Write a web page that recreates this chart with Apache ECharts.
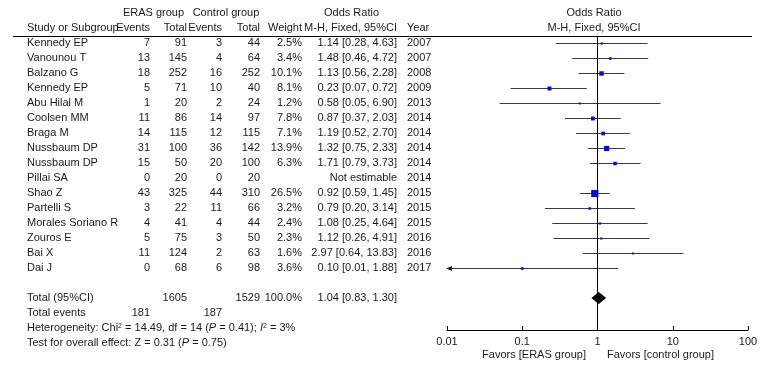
<!DOCTYPE html>
<html>
<head>
<meta charset="utf-8">
<script src="https://cdn.jsdelivr.net/npm/echarts@6/dist/echarts.min.js"></script>
<style>
  html, body { margin: 0; background: #fff; }
  #chart { width: 768px; height: 371px; }
</style>
</head>
<body>
<div id="chart"></div>
<script>
// ---- data ----
const studies = ["Kennedy EP", "Vanounou T", "Balzano G", "Kennedy EP", "Abu Hilal M", "Coolsen MM",
  "Braga M", "Nussbaum DP", "Nussbaum DP", "Pillai SA", "Shao Z", "Partelli S",
  "Morales Soriano R", "Zouros E", "Bai X", "Dai J"];
const years = [2007, 2007, 2008, 2009, 2013, 2014, 2014, 2014, 2014, 2014, 2015, 2015, 2015, 2016, 2016, 2017];
const erasEvents = [7, 13, 18, 5, 1, 11, 14, 31, 15, 0, 43, 3, 4, 5, 11, 0];
const erasTotal = [91, 145, 252, 71, 20, 86, 115, 100, 50, 20, 325, 22, 41, 75, 124, 68];
const ctrlEvents = [3, 4, 16, 10, 2, 14, 12, 36, 20, 0, 44, 11, 4, 3, 2, 6];
const ctrlTotal = [44, 64, 252, 40, 24, 97, 115, 142, 100, 20, 310, 66, 44, 50, 63, 98];
const weights = [2.5, 3.4, 10.1, 8.1, 1.2, 7.8, 7.1, 13.9, 6.3, null, 26.5, 3.2, 2.4, 2.3, 1.6, 3.6];
const oddsRatios = [1.14, 1.48, 1.13, 0.23, 0.58, 0.87, 1.19, 1.32, 1.71, null, 0.92, 0.79, 1.08, 1.12, 2.97, 0.10];
const ciLow = [0.28, 0.46, 0.56, 0.07, 0.05, 0.37, 0.52, 0.75, 0.79, null, 0.59, 0.20, 0.25, 0.26, 0.64, 0.01];
const ciHigh = [4.63, 4.72, 2.28, 0.72, 6.90, 2.03, 2.70, 2.33, 3.73, null, 1.45, 3.14, 4.64, 4.91, 13.83, 1.88];
const pooled = [1.04, 0.83, 1.30];          // OR, low, high
const pooledTotals = [1605, 1529];          // ERAS, control
const pooledEvents = [181, 187];
const tickValues = [0.01, 0.1, 1, 10, 100];
const tickLabels = ["0.01", "0.1", "1", "10", "100"];
const groupHeaders = ["ERAS group", "Control group", "Odds Ratio"];
const colHeaders = ["Study or Subgroup", "Events", "Total", "Events", "Total", "Weight", "M-H, Fixed, 95%CI", "Year"];
const favorLabels = ["Favors [ERAS group]", "Favors [control group]"];

// ---- layout ----
const FONT = "'Liberation Sans', Arial, sans-serif";
const FS = 11;
const TEXT = "#1a1a1a";
const ROW0 = 43, ROWH = 15;       // first study row and row pitch (px)
const AXIS_Y = 330, TOP_Y = 36;
const TOTAL_ROW = 17;
const col = { name: 27, ee: 150, et: 187, ce: 222, ct: 260, w: 302, or: 397, year: 407, plot: 594 };

const fmt = v => v.toFixed(2);
const cells = [];
function cell(x, row, text, align, rich) { cells.push({ x, row, text, align: align || "right", rich }); }

cell(153.5, -2, groupHeaders[0], "center");
cell(226, -2, groupHeaders[1], "center");
cell(351.5, -2, groupHeaders[2], "center");
cell(col.plot, -2, groupHeaders[2], "center");
[col.name, col.ee, col.et, col.ce, col.ct, col.w, col.or, col.year].forEach((x, i) =>
  cell(x, -1, colHeaders[i], i === 0 || i === 7 ? "left" : "right"));
cell(col.plot, -1, colHeaders[6], "center");

studies.forEach((s, i) => {
  cell(col.name, i, s, "left");
  cell(col.ee, i, String(erasEvents[i]));
  cell(col.et, i, String(erasTotal[i]));
  cell(col.ce, i, String(ctrlEvents[i]));
  cell(col.ct, i, String(ctrlTotal[i]));
  if (weights[i] != null) cell(col.w, i, weights[i].toFixed(1) + "%");
  cell(col.or, i, oddsRatios[i] == null ? "Not estimable"
    : fmt(oddsRatios[i]) + " [" + fmt(ciLow[i]) + ", " + fmt(ciHigh[i]) + "]");
  cell(col.year, i, String(years[i]), "left");
});

cell(col.name, TOTAL_ROW, "Total (95%CI)", "left");
cell(col.et, TOTAL_ROW, String(pooledTotals[0]));
cell(col.ct, TOTAL_ROW, String(pooledTotals[1]));
cell(col.w, TOTAL_ROW, "100.0%");
cell(col.or, TOTAL_ROW, fmt(pooled[0]) + " [" + fmt(pooled[1]) + ", " + fmt(pooled[2]) + "]");
cell(col.name, TOTAL_ROW + 1, "Total events", "left");
cell(col.ee, TOTAL_ROW + 1, String(pooledEvents[0]));
cell(col.ce, TOTAL_ROW + 1, String(pooledEvents[1]));
cell(col.name, TOTAL_ROW + 2,
  "Heterogeneity: Chi{sup|2} = 14.49, df = 14 ({i|P} = 0.41); {i|I}{sup|2} = 3%", "left", true);
cell(col.name, TOTAL_ROW + 3, "Test for overall effect: Z = 0.31 ({i|P} = 0.75)", "left", true);
cell(586, 20.8, favorLabels[0], "right");
cell(607, 20.8, favorLabels[1], "left");

const richStyles = {
  sup: { fontSize: 7, fontFamily: FONT, fill: TEXT, verticalAlign: "top", padding: [0, 0, 4, 0] },
  i: { fontSize: FS, fontFamily: FONT, fill: TEXT, fontStyle: "italic" }
};

const studyData = [];
studies.forEach((s, i) => {
  if (oddsRatios[i] != null) studyData.push([i, oddsRatios[i], ciLow[i], ciHigh[i], weights[i]]);
});

const AXIS_MIN = tickValues[0];
const crisp = y => Math.round(y) + 0.5;

function renderStudy(params, api) {
  const row = api.value(0), or = api.value(1), lo = api.value(2), hi = api.value(3), w = api.value(4);
  const pL = api.coord([Math.max(lo, AXIS_MIN), row]);
  const pH = api.coord([hi, row]);
  const pM = api.coord([or, row]);
  const y = crisp(pM[1]);
  const s = Math.max(2, 1.4 * Math.sqrt(w));
  const children = [
    { type: "line", shape: { x1: pL[0], y1: y, x2: pH[0], y2: y }, style: { stroke: "#3c3c3c", lineWidth: 1 } },
    { type: "rect", shape: { x: pM[0] - s / 2, y: y - s / 2, width: s, height: s }, style: { fill: "#0a0ae6" } }
  ];
  if (lo <= AXIS_MIN) {
    children.push({ type: "polygon",
      shape: { points: [[pL[0] - 1, y], [pL[0] + 5, y - 2.5], [pL[0] + 5, y + 2.5]] },
      style: { fill: "#222" } });
  }
  return { type: "group", children };
}

function renderDiamond(params, api) {
  const row = api.value(0);
  const c = api.coord([api.value(1), row]);
  const l = api.coord([api.value(2), row]);
  const r = api.coord([api.value(3), row]);
  const h = 6;
  return { type: "polygon",
    shape: { points: [[l[0], c[1]], [c[0], c[1] - h], [r[0], c[1]], [c[0], c[1] + h]] },
    style: { fill: "#000" } };
}

function renderCell(params, api) {
  const c = cells[params.dataIndex];
  const p = api.coord([c.x, c.row]);
  const style = { text: c.text, x: p[0], y: p[1], align: c.align, verticalAlign: "middle",
    fontSize: FS, fontFamily: FONT, fill: TEXT };
  if (c.rich) style.rich = richStyles;
  return { type: "text", style };
}

const chart = echarts.init(document.getElementById("chart"), null, { renderer: "canvas" });
chart.setOption({
  animation: false,
  backgroundColor: "#fff",
  grid: [
    { left: 0, right: 0, top: 0, bottom: 0 },
    { left: 447, right: 20, top: TOP_Y, bottom: 371 - AXIS_Y }
  ],
  xAxis: [
    { gridIndex: 0, type: "value", min: 0, max: 768, show: false },
    { gridIndex: 1, type: "log", logBase: 10, min: tickValues[0], max: tickValues[tickValues.length - 1],
      position: "bottom",
      axisLine: { show: true, onZero: false, lineStyle: { color: "#000", width: 1 } },
      axisTick: { show: true, inside: true, length: 4, lineStyle: { color: "#000" } },
      minorTick: { show: false }, splitLine: { show: false },
      axisLabel: { color: TEXT, fontSize: FS, fontFamily: FONT, margin: 6,
        formatter: (v, idx) => tickLabels[idx] } }
  ],
  yAxis: [
    { gridIndex: 0, type: "value", inverse: true, show: false,
      min: -ROW0 / ROWH, max: (371 - ROW0) / ROWH },
    { gridIndex: 1, type: "value", inverse: true, show: false,
      min: -(ROW0 - TOP_Y) / ROWH, max: (AXIS_Y - ROW0) / ROWH }
  ],
  graphic: [
    { type: "line", shape: { x1: 13, y1: TOP_Y + 0.5, x2: 752, y2: TOP_Y + 0.5 },
      style: { stroke: "#000", lineWidth: 1 }, silent: true }
  ],
  series: [
    { type: "custom", xAxisIndex: 1, yAxisIndex: 1, renderItem: renderStudy, data: studyData, clip: false,
      markLine: { silent: true, symbol: "none", label: { show: false },
        lineStyle: { color: "#000", width: 1, type: "solid" }, data: [{ xAxis: 1 }] } },
    { type: "custom", xAxisIndex: 1, yAxisIndex: 1, renderItem: renderDiamond,
      data: [[TOTAL_ROW, pooled[0], pooled[1], pooled[2]]], clip: false },
    { type: "custom", xAxisIndex: 0, yAxisIndex: 0, renderItem: renderCell,
      data: cells.map(c => [c.x, c.row]), clip: false, silent: true }
  ]
});
</script>
</body>
</html>
